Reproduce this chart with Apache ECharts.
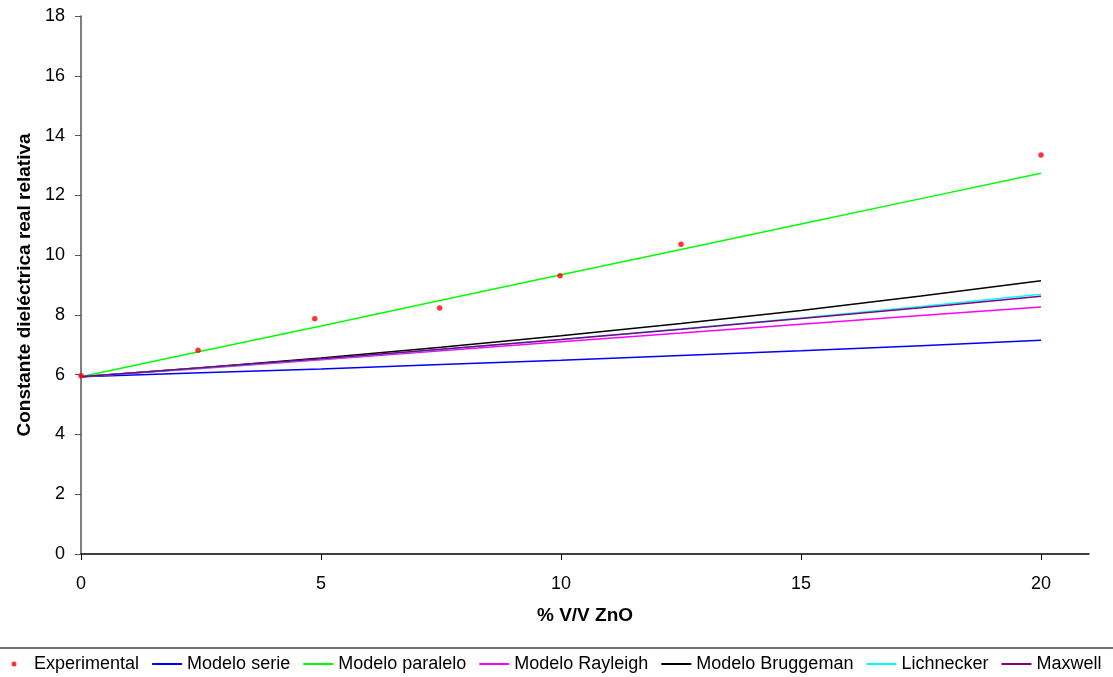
<!DOCTYPE html>
<html>
<head>
<meta charset="utf-8">
<script src="https://cdn.jsdelivr.net/npm/echarts@6/dist/echarts.min.js"></script>
<style>html,body{margin:0;padding:0;background:#fff}#c{width:1113px;height:677px}</style>
</head>
<body>
<div id="c"></div>
<script>
// Data
var expX = [0, 2.44, 4.87, 7.47, 9.98, 12.5, 20];
var expY = [5.96, 6.82, 7.87, 8.23, 9.31, 10.36, 13.35];

var modelX = [0, 2.5, 5, 7.5, 10, 12.5, 15, 17.5, 20];
var serieY      = [5.93, 6.06, 6.19, 6.34, 6.48, 6.64, 6.80, 6.97, 7.15];
var paraleloY   = [5.93, 6.78, 7.63, 8.49, 9.34, 10.19, 11.04, 11.89, 12.74];
var rayleighY   = [5.93, 6.21, 6.50, 6.80, 7.10, 7.39, 7.69, 7.98, 8.26];
var bruggemanY  = [5.93, 6.23, 6.56, 6.92, 7.30, 7.71, 8.15, 8.63, 9.14];
var lichneckerY = [5.93, 6.22, 6.52, 6.84, 7.18, 7.53, 7.90, 8.28, 8.69];
var maxwellY    = [5.93, 6.23, 6.53, 6.85, 7.18, 7.52, 7.88, 8.24, 8.62];

var xTicks = [0, 5, 10, 15, 20];

function pairs(xs, ys) { return xs.map(function (x, i) { return [x, ys[i]]; }); }

var FONT = 'Liberation Sans, Arial, sans-serif';
var LINE_ICON = 'path://M0,0H30V2H0Z';
var chart = echarts.init(document.getElementById('c'));

function lineSeries(name, ys, color) {
  return {
    name: name, type: 'line', data: pairs(modelX, ys),
    symbol: 'none', smooth: false,
    lineStyle: { color: color, width: 1.5 },
    itemStyle: { color: color }
  };
}

chart.setOption({
  animation: false,
  backgroundColor: '#fff',
  textStyle: { fontFamily: FONT },
  grid: { left: 81, right: 24, top: 16, bottom: 123, containLabel: false },
  xAxis: {
    type: 'value', min: 0, max: 21, interval: 5,
    name: '% V/V ZnO', nameLocation: 'middle', nameGap: 52,
    nameTextStyle: { fontFamily: FONT, fontSize: 19, fontWeight: 'bold', color: '#000' },
    axisLine: { lineStyle: { color: '#000', width: 1.5 } },
    axisTick: { show: true, length: 6, inside: false, customValues: xTicks, lineStyle: { color: '#000' } },
    axisLabel: { customValues: xTicks, fontFamily: FONT, fontSize: 18, color: '#000', margin: 21 },
    splitLine: { show: false }
  },
  yAxis: {
    type: 'value', min: 0, max: 18, interval: 2,
    name: 'Constante dieléctrica real relativa', nameLocation: 'middle', nameGap: 47,
    nameTextStyle: { fontFamily: FONT, fontSize: 19, fontWeight: 'bold', color: '#000' },
    axisLine: { show: true, lineStyle: { color: '#555', width: 1.5 } },
    axisTick: { show: true, length: 6, lineStyle: { color: '#555' } },
    axisLabel: { fontFamily: FONT, fontSize: 18, color: '#000', margin: 16 },
    splitLine: { show: false }
  },
  legend: {
    bottom: 4, left: 'center', padding: 0,
    itemWidth: 30, itemHeight: 5, itemGap: 13,
    textStyle: { fontFamily: FONT, fontSize: 18, color: '#000' },
    data: [
      { name: 'Experimental', icon: 'circle' },
      { name: 'Modelo serie', icon: LINE_ICON },
      { name: 'Modelo paralelo', icon: LINE_ICON },
      { name: 'Modelo Rayleigh', icon: LINE_ICON },
      { name: 'Modelo Bruggeman', icon: LINE_ICON },
      { name: 'Lichnecker', icon: LINE_ICON },
      { name: 'Maxwell', icon: LINE_ICON }
    ]
  },
  graphic: [{
    type: 'line', shape: { x1: 0, y1: 648, x2: 1113, y2: 648 },
    style: { stroke: '#707070', lineWidth: 2 }, silent: true
  }],
  series: [
    lineSeries('Modelo serie', serieY, '#0000FF'),
    lineSeries('Modelo paralelo', paraleloY, '#00FF00'),
    lineSeries('Modelo Rayleigh', rayleighY, '#FF00FF'),
    lineSeries('Modelo Bruggeman', bruggemanY, '#000000'),
    lineSeries('Lichnecker', lichneckerY, '#00FFFF'),
    lineSeries('Maxwell', maxwellY, '#800080'),
    {
      name: 'Experimental', type: 'scatter', data: pairs(expX, expY),
      symbol: 'circle', symbolSize: 5.5, z: 5,
      itemStyle: { color: '#FF0000' }
    }
  ]
});
</script>
</body>
</html>
